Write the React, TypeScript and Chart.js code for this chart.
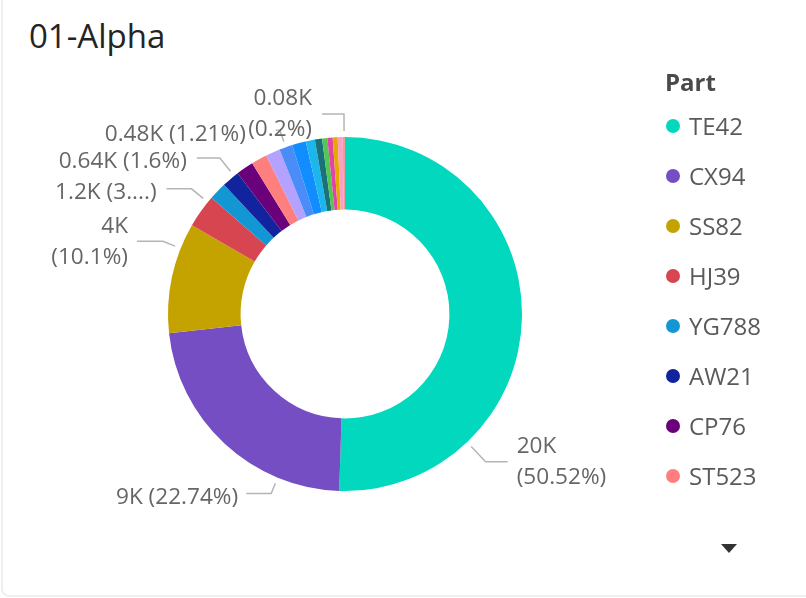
import React, { useEffect, useRef } from "react";
import { Chart, registerables } from "chart.js";

Chart.register(...registerables);

// ---- data ----
const title = "01-Alpha";
const legendTitle = "Part";
const parts = [
  "TE42", "CX94", "SS82", "HJ39", "YG788", "AW21", "CP76", "ST523",
  "RK17", "BN55", "LM08", "QZ31", "DV64", "PF29", "WX12", "GH47", "NT90", "UE33",
];
// values in thousands
const values = [
  20.0, 9.003, 4.0, 1.2, 0.64, 0.6352, 0.63, 0.57,
  0.52, 0.479, 0.5, 0.328, 0.26, 0.19, 0.19, 0.18, 0.18, 0.08,
];
const colors = [
  "#01D8BE", "#744EC2", "#C4A200", "#D64550", "#1297D4", "#12239E", "#6B007B", "#FF7F7F",
  "#B5A1FF", "#4A8DF8", "#118DFF", "#1DB6EC", "#197278", "#53C653", "#E044A7", "#E9A800",
  "#F7A1C4", "#F49A9A",
];
const legendVisibleCount = 8;

// ---- label layout (style) ----
type LabelCfg = {
  index: number; frac: number; elbow: number; hLen: number; gap: number;
  side: "left" | "right"; twoLine: boolean; pctChars?: number;
};
const labelLayout: LabelCfg[] = [
  { index: 0, frac: 0.75, elbow: 27, hLen: 22, gap: 9, side: "right", twoLine: true },
  { index: 1, frac: 0.25, elbow: 17, hLen: 25, gap: 8, side: "left", twoLine: false },
  { index: 2, frac: 0.77, elbow: 19, hLen: 26, gap: 9, side: "left", twoLine: true },
  { index: 3, frac: 0.83, elbow: 21, hLen: 25, gap: 10, side: "left", twoLine: false, pctChars: 2 },
  { index: 5, frac: 0.76, elbow: 23, hLen: 23, gap: 10, side: "left", twoLine: false },
  { index: 9, frac: 0.5, elbow: 18, hLen: 4, gap: 30, side: "left", twoLine: false },
  { index: 17, frac: 0.6, elbow: 23, hLen: 22, gap: 10, side: "left", twoLine: true },
];

const fmtValue = (v: number) => `${Number(v.toPrecision(2))}K`;
const fmtPct = (p: number) => `${Number(p.toFixed(2))}%`;

const leaderLabels = {
  id: "leaderLabels",
  afterDatasetsDraw(chart: any) {
    const ctx = chart.ctx as CanvasRenderingContext2D;
    const meta = chart.getDatasetMeta(0);
    const data = chart.data.datasets[0].data as number[];
    const total = data.reduce((a, b) => a + b, 0);
    ctx.save();
    ctx.font = '22.6px "Open Sans"';
    ctx.fillStyle = "#666666";
    ctx.strokeStyle = "#b5b5b5";
    ctx.lineWidth = 1.5;
    ctx.textBaseline = "middle";
    for (const cfg of labelLayout) {
      const arc = meta.data[cfg.index];
      const p = arc.getProps(["x", "y", "startAngle", "endAngle", "outerRadius"], true);
      const a = p.startAngle + cfg.frac * (p.endAngle - p.startAngle);
      const r1 = p.outerRadius + 6;
      const r2 = p.outerRadius + cfg.elbow;
      const x1 = p.x + r1 * Math.cos(a), y1 = p.y + r1 * Math.sin(a);
      const x2 = p.x + r2 * Math.cos(a), y2 = p.y + r2 * Math.sin(a);
      const dir = cfg.side === "right" ? 1 : -1;
      const x3 = x2 + dir * cfg.hLen;
      ctx.beginPath();
      ctx.moveTo(x1, y1);
      ctx.lineTo(x2, y2);
      ctx.lineTo(x3, y2);
      ctx.stroke();

      const v = data[cfg.index];
      const vs = fmtValue(v);
      let ps = fmtPct((v / total) * 100);
      if (cfg.pctChars) ps = ps.slice(0, cfg.pctChars) + "...";
      const tx = x3 + dir * cfg.gap;
      ctx.textAlign = dir > 0 ? "left" : "right";
      if (cfg.twoLine) {
        ctx.fillText(vs, tx, y2 - 15);
        ctx.fillText(`(${ps})`, tx, y2 + 16);
      } else {
        ctx.fillText(`${vs} (${ps})`, tx, y2 + 4);
      }
    }
    ctx.restore();
  },
};

export default function App() {
  const ref = useRef<HTMLCanvasElement | null>(null);
  useEffect(() => {
    document.body.style.margin = "0";
    if (!ref.current) return;
    const chart = new Chart(ref.current, {
      type: "doughnut",
      data: {
        labels: parts,
        datasets: [
          {
            data: values,
            backgroundColor: colors,
            borderWidth: 0,
          },
        ],
      },
      options: {
        responsive: false,
        animation: false,
        cutout: "59%",
        layout: { padding: { left: 168, right: 284, top: 137, bottom: 107 } },
        plugins: {
          legend: { display: false },
          tooltip: { enabled: false },
        },
      },
      plugins: [leaderLabels],
    });
    return () => chart.destroy();
  }, []);

  return (
    <div
      style={{
        position: "fixed", left: 0, top: 0, width: 806, height: 598,
        background: "#ffffff", overflow: "hidden", fontFamily: '"Open Sans", sans-serif',
      }}
    >
      <div
        style={{
          position: "absolute", left: 1, top: -20, width: 840, height: 617,
          border: "2px solid #efefef", borderRadius: 8, boxSizing: "border-box",
        }}
      />
      <div
        style={{
          position: "absolute", left: 29, top: 14, fontSize: 33, fontWeight: 500,
          color: "#252423", lineHeight: "44px", whiteSpace: "nowrap",
        }}
      >
        {title}
      </div>
      <canvas ref={ref} width={806} height={598} style={{ position: "absolute", left: 0, top: 0 }} />
      <div
        style={{
          position: "absolute", left: 665, top: 64, fontSize: 24, fontWeight: 700,
          color: "#4a4a4a", lineHeight: "36px",
        }}
      >
        {legendTitle}
      </div>
      {parts.slice(0, legendVisibleCount).map((p, i) => (
        <div
          key={p}
          style={{
            position: "absolute", left: 666, top: 108 + i * 50, height: 36,
            display: "flex", alignItems: "center", whiteSpace: "nowrap",
          }}
        >
          <span
            style={{
              width: 14, height: 14, borderRadius: 7, background: colors[i],
              display: "inline-block", marginRight: 9,
            }}
          />
          <span style={{ fontSize: 24, color: "#5a5a5a", lineHeight: "36px" }}>{p}</span>
        </div>
      ))}
      <div
        style={{
          position: "absolute", left: 721, top: 544, width: 0, height: 0,
          borderLeft: "8px solid transparent", borderRight: "8px solid transparent",
          borderTop: "9px solid #333333",
        }}
      />
    </div>
  );
}
